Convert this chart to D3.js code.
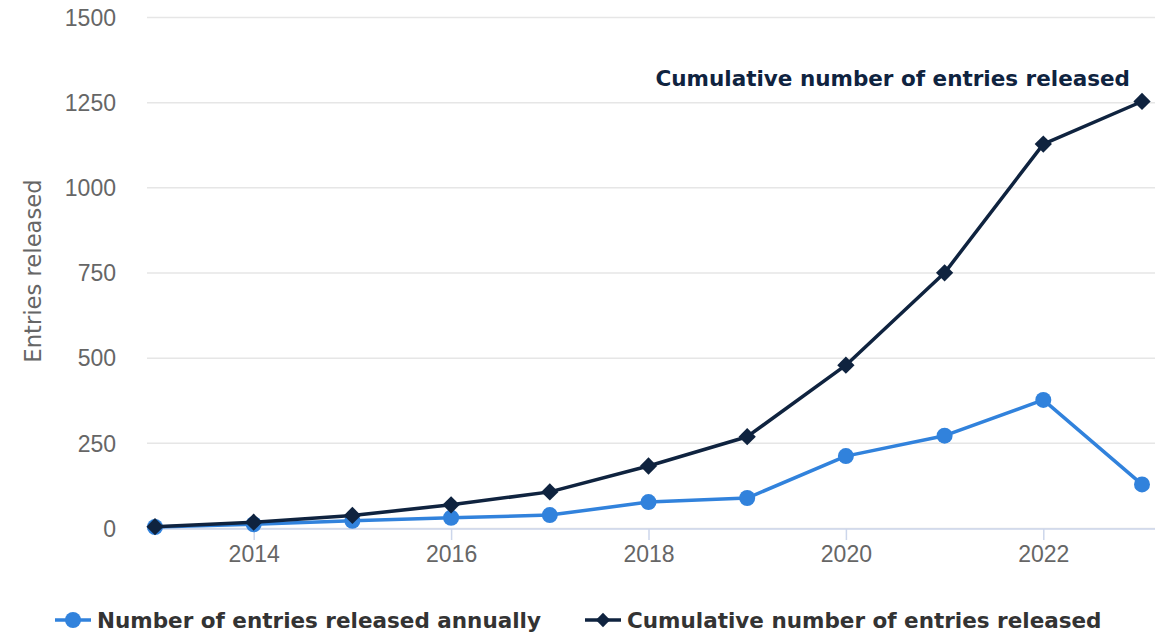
<!DOCTYPE html>
<html>
<head>
<meta charset="utf-8">
<script src="https://cdn.jsdelivr.net/npm/d3@7"></script>
<style>
  body { margin: 0; background: #fff; }
  svg { display: block; font-family: "DejaVu Sans", sans-serif; }
</style>
</head>
<body>
<div id="main"></div>
<script>
const years = [2013, 2014, 2015, 2016, 2017, 2018, 2019, 2020, 2021, 2022, 2023]
const annual = [3, 11, 21, 30, 38, 76, 88, 211, 271, 376, 128]
const cumulative = [4, 17, 37, 68, 106, 182, 268, 478, 749, 1127, 1252]
const yTicks = [0, 250, 500, 750, 1000, 1250, 1500]
const xTicks = [2014, 2016, 2018, 2020, 2022]
const seriesNames = ["Number of entries released annually", "Cumulative number of entries released"]

const width = 1168
const height = 633
const plot = { left: 147, right: 1155, top: 17, bottom: 528 }

const blue = "#3182dc"
const navy = "#0f233f"

const svg = d3.select("#main").append("svg")
  .attr("width", width)
  .attr("height", height)

const x = d3.scaleLinear()
  .domain([2013, 2023])
  .range([155, 1142])

const y = d3.scaleLinear()
  .domain([0, 1500])
  .range([plot.bottom, plot.top])

// grid + y labels
const yAxis = d3.axisLeft(y)
  .tickValues(yTicks)
  .tickSize(-(plot.right - plot.left))
  .tickPadding(31)
  .tickFormat(d3.format("d"))

svg.append("g")
  .attr("transform", `translate(${plot.left},0)`)
  .call(yAxis)
  .call(g => g.select(".domain").remove())
  .call(g => g.selectAll(".tick line").attr("stroke", "#e6e6e6").attr("stroke-width", 1.5))
  .call(g => g.selectAll(".tick text")
    .attr("fill", "#666").attr("font-size", 23).attr("dy", "0.36em"))

const xAxis = d3.axisBottom(x)
  .tickValues(xTicks)
  .tickSize(11)
  .tickPadding(6)
  .tickFormat(d3.format("d"))

svg.append("g")
  .attr("transform", `translate(0,${plot.bottom + 1})`)
  .call(xAxis)
  .call(g => g.select(".domain").attr("d", `M${plot.left},0H${plot.right}`).attr("stroke", "#ccd6eb").attr("stroke-width", 1.5))
  .call(g => g.selectAll(".tick line").attr("stroke", "#ccd6eb").attr("stroke-width", 1.5))
  .call(g => g.selectAll(".tick text").attr("fill", "#666").attr("font-size", 23))

svg.append("text")
  .attr("transform", `translate(41,271) rotate(-90)`)
  .attr("text-anchor", "middle")
  .attr("fill", "#666")
  .attr("font-size", 22.7)
  .text("Entries released")

const line = d3.line()
  .x((d, i) => x(years[i]))
  .y(d => y(d))

const diamond = d3.symbol().type(d3.symbolDiamond2).size(190)

// annual series
svg.append("path")
  .datum(annual)
  .attr("fill", "none")
  .attr("stroke", blue)
  .attr("stroke-width", 3.5)
  .attr("stroke-linejoin", "round")
  .attr("d", line)

svg.append("g")
  .selectAll("circle")
  .data(annual)
  .join("circle")
  .attr("cx", (d, i) => x(years[i]))
  .attr("cy", d => y(d))
  .attr("r", 8)
  .attr("fill", blue)

// cumulative series
svg.append("path")
  .datum(cumulative)
  .attr("fill", "none")
  .attr("stroke", navy)
  .attr("stroke-width", 3.5)
  .attr("stroke-linejoin", "round")
  .attr("d", line)

svg.append("g")
  .selectAll("path")
  .data(cumulative)
  .join("path")
  .attr("transform", (d, i) => `translate(${x(years[i])},${y(d)})`)
  .attr("d", diamond)
  .attr("fill", navy)

// label on the last point
svg.append("text")
  .attr("x", 1130)
  .attr("y", 86)
  .attr("text-anchor", "end")
  .attr("fill", navy)
  .attr("font-size", 21.5)
  .attr("font-weight", "bold")
  .text(seriesNames[1])

// legend
const legend = svg.append("g").attr("transform", "translate(0,620)")
const items = [
  { name: seriesNames[0], color: blue, x: 55, marker: "circle" },
  { name: seriesNames[1], color: navy, x: 585, marker: "diamond" }
]
items.forEach(it => {
  const g = legend.append("g").attr("transform", `translate(${it.x},0)`)
  g.append("line").attr("x1", 0).attr("x2", 36).attr("stroke", it.color).attr("stroke-width", 3.5)
  if (it.marker === "circle") {
    g.append("circle").attr("cx", 18).attr("r", 8).attr("fill", it.color)
  } else {
    g.append("path").attr("transform", "translate(18,0)").attr("d", d3.symbol().type(d3.symbolDiamond2).size(130)).attr("fill", it.color)
  }
  g.append("text")
    .attr("x", 42)
    .attr("dy", "0.36em")
    .attr("fill", "#333")
    .attr("font-size", 21.5)
    .attr("font-weight", "bold")
    .text(it.name)
})
</script>
</body>
</html>
